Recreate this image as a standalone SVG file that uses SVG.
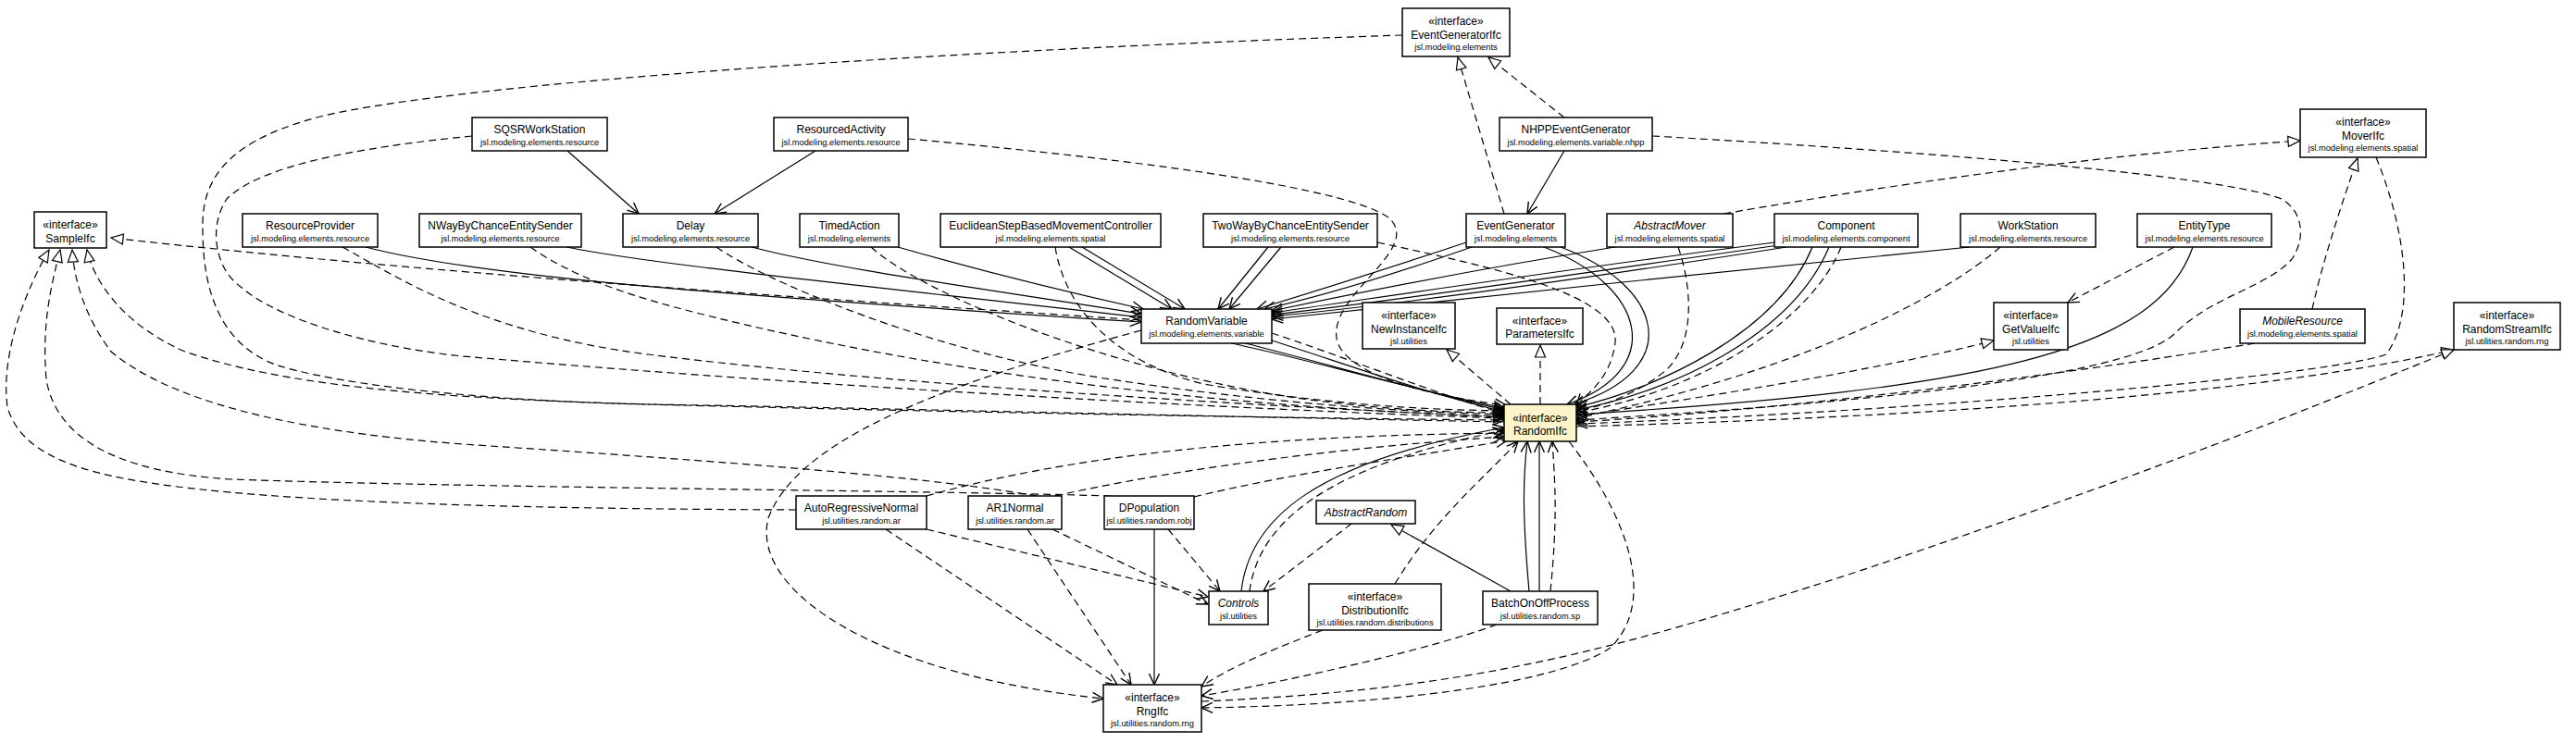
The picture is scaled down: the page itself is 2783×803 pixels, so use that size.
<svg xmlns="http://www.w3.org/2000/svg" width="2783" height="803" viewBox="0 0 2783 803">
<style>
.b{fill:#fff;stroke:#000;stroke-width:1.5}
.y{fill:#fdf5c9}
text{font-family:"Liberation Sans",Arial,sans-serif;text-anchor:middle;fill:#000}
.n{font-size:12px}
.p{font-size:9.3px}
.i{font-style:italic}
.s{fill:none;stroke:#000;stroke-width:1.2}
.d{fill:none;stroke:#000;stroke-width:1.2;stroke-dasharray:8,5}
.a{marker-end:url(#a)}
.t{marker-end:url(#t)}
</style>
<defs>
<marker id="a" markerWidth="16" markerHeight="14" refX="13" refY="7" orient="auto" markerUnits="userSpaceOnUse"><path d="M1,1.5 L13,7 L1,12.5" fill="none" stroke="#000" stroke-width="1.4" stroke-dasharray="none"/></marker>
<marker id="t" markerWidth="16" markerHeight="14" refX="14" refY="7" orient="auto" markerUnits="userSpaceOnUse"><path d="M1,1.5 L14,7 L1,12.5 Z" fill="#fff" stroke="#000" stroke-width="1.2" stroke-dasharray="none"/></marker>
</defs>
<rect width="2783" height="803" fill="#fff"/>
<g id="connectors">
<!-- solid to RandomVariable -->
<path class="s a" d="M395,267 C520,300 800,320 1233,348"/>
<path class="s a" d="M612,267 C700,285 900,305 1233,343"/>
<path class="s a" d="M812,267 C900,290 1050,310 1233,339"/>
<path class="s a" d="M970,267 C1050,290 1150,315 1235,334"/>
<path class="s a" d="M1155,267 L1266,334"/>
<path class="s a" d="M1169,267 L1280,334"/>
<path class="s a" d="M1370,267 L1316,334"/>
<path class="s a" d="M1384,267 L1328,334"/>
<path class="s a" d="M1584,262 C1500,290 1420,315 1358,334"/>
<path class="s a" d="M1590,267 C1510,295 1430,320 1366,334"/>
<path class="s a" d="M1745,267 C1600,290 1450,320 1374,336"/>
<path class="s a" d="M1917,262 C1700,290 1500,320 1374,338"/>
<path class="s a" d="M1922,265 C1710,295 1510,325 1374,340"/>
<path class="s a" d="M1930,267 C1720,300 1520,328 1374,342"/>
<path class="s a" d="M2128,267 C1900,290 1600,320 1374,345"/>
<!-- Delay -->
<path class="s a" d="M613,163 L690,231"/>
<path class="s a" d="M881,163 L772,231"/>
<!-- EventGeneratorIfc -->
<path class="d t" d="M1690,127 L1608,62"/>
<path class="d t" d="M1625,231 L1575,62"/>
<path class="s a" d="M1690,163 L1650,231"/>
<!-- MoverIfc -->
<path class="d t" d="M1862,231 C2100,190 2300,165 2485,152"/>
<path class="d t" d="M2498,334 C2510,280 2530,220 2547,171"/>
<!-- RV to RandomIfc -->
<path class="s a" d="M1330,371 C1400,385 1520,420 1625,441"/>
<path class="s a" d="M1345,371 C1415,388 1530,422 1625,443"/>
<path class="s a" d="M1374,368 C1450,392 1540,425 1625,445"/>
<path class="d a" d="M1374,360 C1450,385 1550,425 1625,447"/>
<path class="d t" d="M1233,346 C1000,330 500,300 120,257"/>
<path class="d a" d="M1233,357 C1000,420 860,480 830,560 C810,640 950,730 1192,755"/>
<!-- dashed into RandomIfc left -->
<path class="d a" d="M370,267 C430,300 520,360 700,383 C1000,420 1400,440 1625,451"/>
<path class="d a" d="M573,267 C620,300 680,320 760,340 C1000,400 1300,440 1625,450"/>
<path class="d a" d="M774,267 C820,300 1000,380 1200,410 C1400,440 1550,446 1625,448"/>
<path class="d a" d="M941,267 C1000,320 1200,400 1400,430 C1500,444 1580,446 1625,446"/>
<path class="d a" d="M1140,267 C1150,330 1200,390 1300,415 C1450,440 1560,443 1625,444"/>
<path class="d a" d="M981,150 C1200,170 1450,200 1500,235 C1540,270 1430,320 1445,370 C1460,410 1560,430 1627,438"/>
<path class="d a" d="M1515,38 C1000,55 500,90 350,125 C250,150 220,190 219,240 C218,300 230,370 300,395 C400,425 600,435 700,437 C1000,445 1400,452 1625,454"/>
<path class="d a" d="M510,147 C380,160 280,180 245,215 C225,245 232,290 260,310 C300,345 400,375 500,385 C900,420 1400,445 1625,452"/>
<!-- SampleIfc realizations -->
<path class="d t" d="M860,551 C600,550 300,545 150,520 C60,505 20,480 8,440 C0,380 30,310 53,270"/>
<path class="d t" d="M1200,536 C1000,530 500,527 250,518 C120,510 60,470 50,410 C45,350 55,310 65,270"/>
<path class="d t" d="M1120,536 C1000,515 800,500 500,480 C300,465 180,430 120,380 C90,340 80,300 78,270"/>
<path class="d t" d="M1625,456 C1300,450 900,440 700,437 C450,430 300,415 200,380 C130,350 100,300 94,270"/>
<!-- right side into RandomIfc -->
<path class="s a" d="M1668,267 C1780,310 1800,400 1693,437"/>
<path class="s a" d="M1686,267 C1800,310 1820,400 1700,437"/>
<path class="d a" d="M1488,262 C1620,290 1750,320 1745,370 C1740,410 1715,425 1703,438"/>
<path class="s a" d="M1958,267 C1920,360 1790,420 1703,440"/>
<path class="s a" d="M1976,267 C1935,365 1800,425 1703,443"/>
<path class="d a" d="M1813,267 C1828,310 1832,370 1800,400 C1770,425 1730,440 1703,444"/>
<path class="d a" d="M1989,267 C1960,340 1850,420 1703,446"/>
<path class="s a" d="M2369,267 C2330,380 2150,420 1703,448"/>
<path class="d a" d="M2349,267 L2234,327"/>
<path class="d t" d="M1703,450 C1900,420 2050,395 2154,368"/>
<path class="d a" d="M2161,267 C2100,320 1950,400 1703,452"/>
<path class="d a" d="M1785,147 C2100,165 2400,190 2465,215 C2490,230 2490,260 2476,280 C2450,310 2390,320 2350,360 C2310,400 2100,430 1703,454"/>
<path class="d a" d="M2436,371 C2200,410 1900,445 1703,456"/>
<path class="d a" d="M2567,170 C2600,250 2610,340 2578,383 C2500,410 2000,448 1703,458"/>
<path class="d t" d="M1703,461 C2100,450 2450,425 2651,378"/>
<!-- RandomIfc up -->
<path class="d t" d="M1632,437 L1563,378"/>
<path class="d t" d="M1664,437 L1664,373"/>
<!-- bottom -->
<path class="d a" d="M1001,536 C1200,480 1450,470 1625,468"/>
<path class="d a" d="M1140,536 C1300,500 1500,480 1625,472"/>
<path class="d a" d="M1290,537 C1400,510 1550,490 1628,476"/>
<path class="d a" d="M1001,572 L1305,645"/>
<path class="d a" d="M957,572 L1207,740"/>
<path class="d a" d="M1137,572 L1305,653"/>
<path class="d a" d="M1110,572 L1222,740"/>
<path class="d a" d="M1262,572 L1318,639"/>
<path class="s a" d="M1247,572 L1247,740"/>
<path class="d a" d="M1460,566 L1365,639"/>
<path class="s a" d="M1341,639 C1350,560 1420,500 1625,462"/>
<path class="d a" d="M1350,639 C1360,565 1430,505 1625,465"/>
<path class="d a" d="M1507,631 C1550,560 1600,520 1640,477"/>
<path class="d a" d="M1429,681 C1380,700 1330,720 1298,742"/>
<path class="s t" d="M1632,639 L1503,567"/>
<path class="s a" d="M1652,639 C1645,560 1645,520 1650,477"/>
<path class="s a" d="M1663,639 L1663,477"/>
<path class="d a" d="M1675,639 C1683,560 1680,520 1677,477"/>
<path class="d a" d="M1617,675 C1550,700 1400,735 1298,752"/>
<path class="d a" d="M1695,477 C1760,560 1790,650 1740,700 C1680,740 1500,762 1298,765"/>
<path class="d t" d="M1298,758 C1600,745 1750,700 2000,620 C2300,520 2500,440 2651,378"/>
</g>
<g id="SampleIfc"><rect class="b" x="37" y="229" width="78" height="39"/><text class="n" x="76" y="247">«interface»</text><text class="n" x="76" y="262">SampleIfc</text></g>
<g id="SQSRWorkStation"><rect class="b" x="510" y="127" width="146" height="36"/><text class="n" x="583" y="143.5">SQSRWorkStation</text><text class="p" x="583" y="157">jsl.modeling.elements.resource</text></g>
<g id="ResourcedActivity"><rect class="b" x="836" y="127" width="145" height="36"/><text class="n" x="908.5" y="143.5">ResourcedActivity</text><text class="p" x="908.5" y="157">jsl.modeling.elements.resource</text></g>
<g id="EventGeneratorIfc"><rect class="b" x="1515" y="9" width="116" height="52"/><text class="n" x="1573" y="27">«interface»</text><text class="n" x="1573" y="42">EventGeneratorIfc</text><text class="p" x="1573" y="54">jsl.modeling.elements</text></g>
<g id="NHPPEventGenerator"><rect class="b" x="1620" y="127" width="165" height="36"/><text class="n" x="1702.5" y="143.5">NHPPEventGenerator</text><text class="p" x="1702.5" y="157">jsl.modeling.elements.variable.nhpp</text></g>
<g id="MoverIfc"><rect class="b" x="2485" y="118" width="136" height="52"/><text class="n" x="2553" y="136">«interface»</text><text class="n" x="2553" y="151">MoverIfc</text><text class="p" x="2553" y="163">jsl.modeling.elements.spatial</text></g>
<g id="ResourceProvider"><rect class="b" x="262" y="231" width="146" height="36"/><text class="n" x="335" y="247.5">ResourceProvider</text><text class="p" x="335" y="261">jsl.modeling.elements.resource</text></g>
<g id="NWayByChanceEntitySender"><rect class="b" x="453" y="231" width="175" height="36"/><text class="n" x="540.5" y="247.5">NWayByChanceEntitySender</text><text class="p" x="540.5" y="261">jsl.modeling.elements.resource</text></g>
<g id="Delay"><rect class="b" x="673" y="231" width="146" height="36"/><text class="n" x="746" y="247.5">Delay</text><text class="p" x="746" y="261">jsl.modeling.elements.resource</text></g>
<g id="TimedAction"><rect class="b" x="864" y="231" width="107" height="36"/><text class="n" x="917.5" y="247.5">TimedAction</text><text class="p" x="917.5" y="261">jsl.modeling.elements</text></g>
<g id="EuclideanStepBasedMovementController"><rect class="b" x="1016" y="231" width="238" height="36"/><text class="n" x="1135" y="247.5">EuclideanStepBasedMovementController</text><text class="p" x="1135" y="261">jsl.modeling.elements.spatial</text></g>
<g id="TwoWayByChanceEntitySender"><rect class="b" x="1300" y="231" width="188" height="36"/><text class="n" x="1394" y="247.5">TwoWayByChanceEntitySender</text><text class="p" x="1394" y="261">jsl.modeling.elements.resource</text></g>
<g id="EventGenerator"><rect class="b" x="1584" y="231" width="107" height="36"/><text class="n" x="1637.5" y="247.5">EventGenerator</text><text class="p" x="1637.5" y="261">jsl.modeling.elements</text></g>
<g id="AbstractMover"><rect class="b" x="1736" y="231" width="136" height="36"/><text class="n i" x="1804" y="247.5">AbstractMover</text><text class="p" x="1804" y="261">jsl.modeling.elements.spatial</text></g>
<g id="Component"><rect class="b" x="1917" y="231" width="155" height="36"/><text class="n" x="1994.5" y="247.5">Component</text><text class="p" x="1994.5" y="261">jsl.modeling.elements.component</text></g>
<g id="WorkStation"><rect class="b" x="2118" y="231" width="146" height="36"/><text class="n" x="2191" y="247.5">WorkStation</text><text class="p" x="2191" y="261">jsl.modeling.elements.resource</text></g>
<g id="EntityType"><rect class="b" x="2309" y="231" width="145" height="36"/><text class="n" x="2381.5" y="247.5">EntityType</text><text class="p" x="2381.5" y="261">jsl.modeling.elements.resource</text></g>
<g id="RandomVariable"><rect class="b" x="1233" y="334" width="141" height="37"/><text class="n" x="1303.5" y="350.5">RandomVariable</text><text class="p" x="1303.5" y="364">jsl.modeling.elements.variable</text></g>
<g id="NewInstanceIfc"><rect class="b" x="1472" y="327" width="100" height="50"/><text class="n" x="1522" y="345">«interface»</text><text class="n" x="1522" y="360">NewInstanceIfc</text><text class="p" x="1522" y="372">jsl.utilities</text></g>
<g id="ParametersIfc"><rect class="b" x="1617" y="333" width="93" height="39"/><text class="n" x="1663.5" y="351">«interface»</text><text class="n" x="1663.5" y="365">ParametersIfc</text></g>
<g id="GetValueIfc"><rect class="b" x="2154" y="327" width="80" height="51"/><text class="n" x="2194" y="345">«interface»</text><text class="n" x="2194" y="360">GetValueIfc</text><text class="p" x="2194" y="372">jsl.utilities</text></g>
<g id="MobileResource"><rect class="b" x="2420" y="334" width="135" height="37"/><text class="n i" x="2487.5" y="350.5">MobileResource</text><text class="p" x="2487.5" y="364">jsl.modeling.elements.spatial</text></g>
<g id="RandomStreamIfc"><rect class="b" x="2651" y="327" width="115" height="51"/><text class="n" x="2708.5" y="345">«interface»</text><text class="n" x="2708.5" y="360">RandomStreamIfc</text><text class="p" x="2708.5" y="372">jsl.utilities.random.rng</text></g>
<g id="RandomIfc"><rect class="b y" x="1625" y="437" width="78" height="40"/><text class="n" x="1664" y="456">«interface»</text><text class="n" x="1664" y="470">RandomIfc</text></g>
<g id="AutoRegressiveNormal"><rect class="b" x="860" y="536" width="141" height="36"/><text class="n" x="930.5" y="552.5">AutoRegressiveNormal</text><text class="p" x="930.5" y="566">jsl.utilities.random.ar</text></g>
<g id="AR1Normal"><rect class="b" x="1046" y="536" width="101" height="36"/><text class="n" x="1096.5" y="552.5">AR1Normal</text><text class="p" x="1096.5" y="566">jsl.utilities.random.ar</text></g>
<g id="DPopulation"><rect class="b" x="1193" y="536" width="97" height="36"/><text class="n" x="1241.5" y="552.5">DPopulation</text><text class="p" x="1241.5" y="566">jsl.utilities.random.robj</text></g>
<g id="AbstractRandom"><rect class="b" x="1422" y="541" width="107" height="25"/><text class="n i" x="1475.5" y="558">AbstractRandom</text></g>
<g id="Controls"><rect class="b" x="1306" y="639" width="64" height="36"/><text class="n i" x="1338" y="655.5">Controls</text><text class="p" x="1338" y="669">jsl.utilities</text></g>
<g id="DistributionIfc"><rect class="b" x="1414" y="631" width="143" height="50"/><text class="n" x="1485.5" y="649">«interface»</text><text class="n" x="1485.5" y="664">DistributionIfc</text><text class="p" x="1485.5" y="676">jsl.utilities.random.distributions</text></g>
<g id="BatchOnOffProcess"><rect class="b" x="1602" y="639" width="124" height="36"/><text class="n" x="1664" y="655.5">BatchOnOffProcess</text><text class="p" x="1664" y="669">jsl.utilities.random.sp</text></g>
<g id="RngIfc"><rect class="b" x="1192" y="740" width="106" height="51"/><text class="n" x="1245" y="758">«interface»</text><text class="n" x="1245" y="773">RngIfc</text><text class="p" x="1245" y="785">jsl.utilities.random.rng</text></g>
</svg>
